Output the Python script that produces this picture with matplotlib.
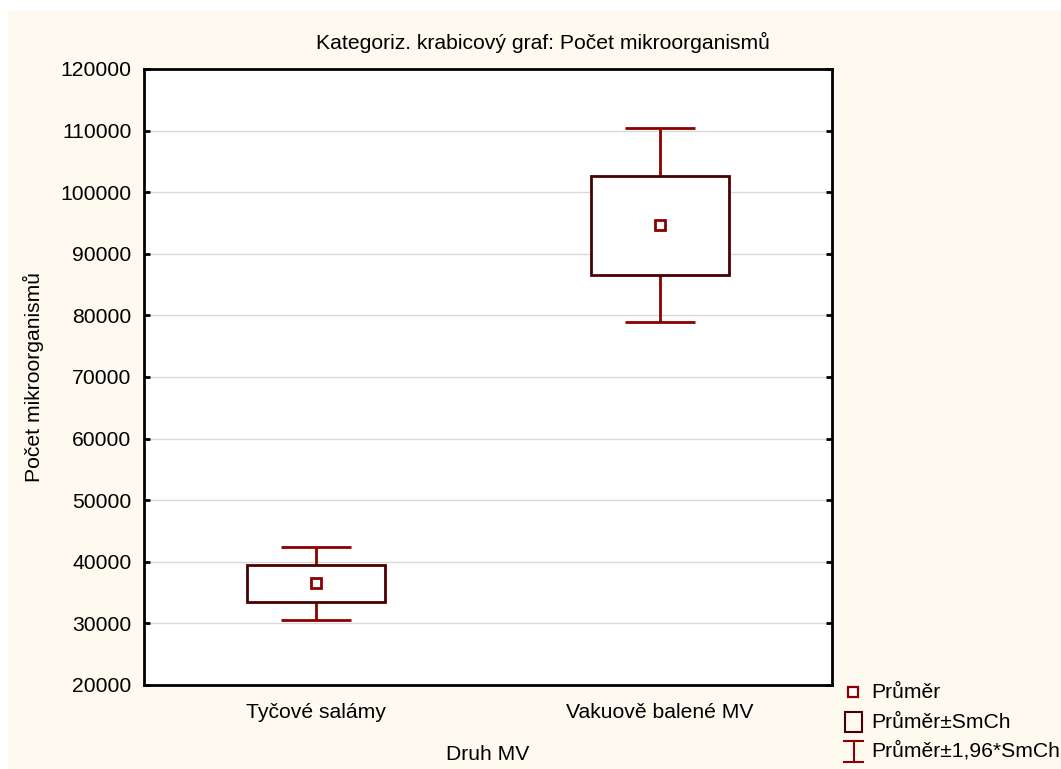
import matplotlib
matplotlib.use("Agg")
import matplotlib.pyplot as plt
from matplotlib.patches import Rectangle
from matplotlib.lines import Line2D

# ---- data ----
categories = ["Tyčové salámy", "Vakuově balené MV"]
means = [36500, 94650]
se = [3050, 8040]
factor = 1.96
yticks = list(range(20000, 120001, 10000))

title = "Kategoriz. krabicový graf: Počet mikroorganismů"
ylabel = "Počet mikroorganismů"
xlabel = "Druh MV"
legend_labels = ["Průměr", "Průměr±SmCh", "Průměr±1,96*SmCh"]

# ---- style ----
plt.rcParams['font.family'] = ['Liberation Sans', 'DejaVu Sans']
FS = 15.2
cream = "#FEFAF0"
box_col = "#4a0000"
wh_col = "#8b0000"

W, H = 1061, 769
fig = plt.figure(figsize=(W / 100, H / 100), dpi=100)
fig.patch.set_facecolor("white")
fig.add_artist(Rectangle((8 / W, 0), 1 - 8 / W, 1 - 11 / H, transform=fig.transFigure,
                         facecolor=cream, edgecolor="none", zorder=-10))

ax = fig.add_axes([144 / W, (H - 685) / H, 688 / W, 616 / H])
ax.set_facecolor("white")
ax.set_xlim(0.5, 2.5)
ax.set_ylim(20000, 120000)
ax.set_yticks(yticks)
ax.set_yticklabels([str(v) for v in yticks], fontsize=FS)
ax.set_xticks([1, 2])
ax.set_xticklabels(categories, fontsize=FS)
ax.tick_params(axis='x', length=0, pad=13)
ax.tick_params(axis='y', direction='in', length=4, width=2, pad=9, right=True, left=True)
ax.grid(axis='y', color="#d9d9d9", linewidth=1)
ax.set_axisbelow(True)
for s in ax.spines.values():
    s.set_linewidth(2)
    s.set_color("black")

box_w = 0.40
for i, (m, s) in enumerate(zip(means, se)):
    x = i + 1
    ax.errorbar([x], [m], yerr=[[factor * s], [factor * s]], fmt='none',
                ecolor=wh_col, elinewidth=2, capsize=25.2, capthick=2, zorder=2)
    ax.add_patch(Rectangle((x - box_w / 2, m - s), box_w, 2 * s, facecolor="white",
                           edgecolor=box_col, linewidth=2, zorder=3))
    ax.plot([x], [m], marker='s', markersize=7, markerfacecolor="white",
            markeredgecolor=wh_col, markeredgewidth=2, linestyle='none', zorder=4)

fig.text(543 / W, 1 - 42 / H, title, fontsize=FS, ha='center', va='center')
fig.text(33 / W, 1 - 377 / H, ylabel, fontsize=FS, ha='center', va='center', rotation=90)
fig.text(488 / W, 1 - 755 / H, xlabel, fontsize=FS, ha='center', va='center')

# ---- legend (manual, outside plot) ----
def fx(px):
    return px / W

def fy(py):
    return 1 - py / H

fig.add_artist(Line2D([fx(853)], [fy(692)], marker='s', markersize=6.5, markerfacecolor='white',
                      markeredgecolor=wh_col, markeredgewidth=1.6, linestyle='none',
                      transform=fig.transFigure))
fig.add_artist(Rectangle((fx(845), fy(732)), 17 / W, 20 / H, transform=fig.transFigure,
                         facecolor='none', edgecolor=box_col, linewidth=1.5))
fig.add_artist(Line2D([fx(844), fx(863)], [fy(741), fy(741)], color=wh_col, linewidth=1.5,
                      transform=fig.transFigure))
fig.add_artist(Line2D([fx(853.5), fx(853.5)], [fy(741), fy(762)], color=wh_col, linewidth=1.5,
                      transform=fig.transFigure))
fig.add_artist(Line2D([fx(844), fx(863)], [fy(762), fy(762)], color=wh_col, linewidth=1.5,
                      transform=fig.transFigure))
for lab, py in zip(legend_labels, [692, 722, 751]):
    fig.text(fx(871), fy(py), lab, fontsize=FS, ha='left', va='center')

fig.savefig("out.png", dpi=100, facecolor=fig.get_facecolor())
